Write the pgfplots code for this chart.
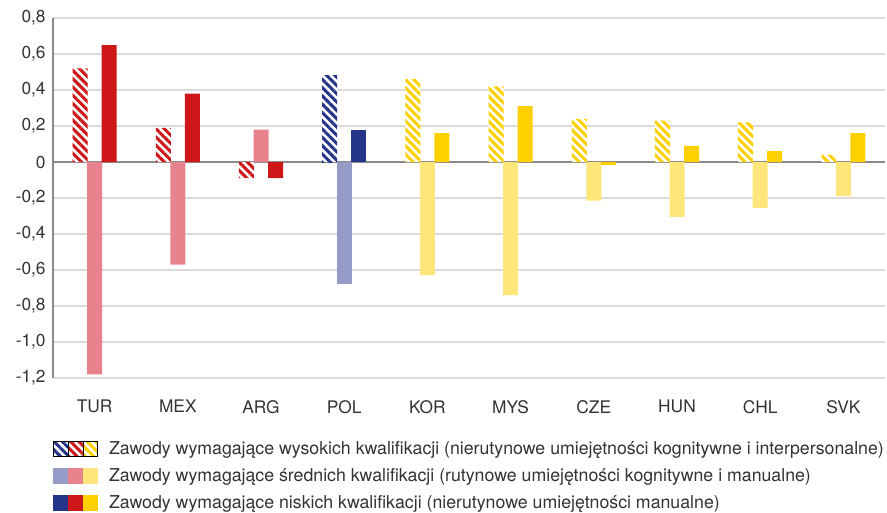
\documentclass[border=0pt]{standalone}
\usepackage{pgfplots}
\pgfplotsset{compat=1.18}
\usepackage{fontspec}
\setmainfont{TeX Gyre Heros}
\usetikzlibrary{patterns.meta}

\definecolor{cred}{HTML}{CD1719}
\definecolor{cpink}{HTML}{E8838D}
\definecolor{cblue}{HTML}{24358A}
\definecolor{cblue2}{HTML}{949BC6}
\definecolor{cyel}{HTML}{FFD000}
\definecolor{cyel2}{HTML}{FFE67A}
\definecolor{txt}{HTML}{333333}
\definecolor{gridc}{HTML}{DADADA}
\definecolor{axisc}{HTML}{8A8A8A}

\tikzset{
  hatch/.style={fill=white, draw=none,
    postaction={pattern={Lines[angle=-45,distance=4.4pt,line width=2.3pt]}, pattern color=#1}},
}

\begin{document}
\begin{tikzpicture}
\useasboundingbox (-39.75pt,-100.5pt) rectangle (625.5pt,283.5pt);
\begin{axis}[
    scale only axis, width=624pt, height=270pt,
    ybar, bar width=11.25pt,
    xmin=-0.5, xmax=9.5, ymin=-1.2, ymax=0.8,
    axis lines*=left,
    x axis line style={draw=gridc, line width=0.9pt},
    y axis line style={draw=axisc, line width=1pt},
    ymajorgrids, grid style={draw=gridc, line width=0.9pt},
    major tick length=0pt,
    xtick={0,1,2,3,4,5,6,7,8,9},
    xticklabels={TUR,MEX,ARG,POL,KOR,MYS,CZE,HUN,CHL,SVK},
    ytick={-1.2,-1,-0.8,-0.6,-0.4,-0.2,0,0.2,0.4,0.6,0.8},
    yticklabels={{-1,2},{-1,0},{-0,8},{-0,6},{-0,4},{-0,2},{0},{0,2},{0,4},{0,6},{0,8}},
    tick label style={font=\fontsize{13}{15}\selectfont, text=txt},
    xticklabel style={yshift=-13pt},
    yticklabel style={xshift=-2pt},
    extra y ticks={0}, extra y tick labels={},
    extra y tick style={grid style={draw=axisc, line width=1.1pt}},
    legend style={at={(0,0)}, anchor=north west, yshift=-45.5pt,
      draw=none, fill=none, inner sep=0pt, row sep=5pt,
      font=\fontsize{13.3}{15}\selectfont, text=txt,
      /tikz/every odd column/.append style={column sep=6.5pt}},
    legend cell align=left,
]
% high-skill (hatched)
\addplot[forget plot, hatch=cred, bar shift=-10.9pt] coordinates {(0,0.52) (1,0.19) (2,-0.09)};
\addplot[forget plot, hatch=cblue, bar shift=-10.9pt] coordinates {(3,0.48)};
\addplot[forget plot, hatch=cyel, bar shift=-10.9pt] coordinates {(4,0.46) (5,0.42) (6,0.24) (7,0.23) (8,0.22) (9,0.04)};
% mid-skill
\addplot[forget plot, fill=cpink, draw=none, bar shift=0pt] coordinates {(0,-1.18) (1,-0.57) (2,0.18)};
\addplot[forget plot, fill=cblue2, draw=none, bar shift=0pt] coordinates {(3,-0.68)};
\addplot[forget plot, fill=cyel2, draw=none, bar shift=0pt] coordinates {(4,-0.63) (5,-0.74) (6,-0.215) (7,-0.305) (8,-0.255) (9,-0.19)};
% low-skill
\addplot[forget plot, fill=cred, draw=none, bar shift=10.9pt] coordinates {(0,0.65) (1,0.38) (2,-0.09)};
\addplot[forget plot, fill=cblue, draw=none, bar shift=10.9pt] coordinates {(3,0.18)};
\addplot[forget plot, fill=cyel, draw=none, bar shift=10.9pt] coordinates {(4,0.16) (5,0.31) (6,-0.017) (7,0.09) (8,0.06) (9,0.16)};

\addlegendimage{legend image code/.code={
  \path[hatch=cblue] (0pt,-5.6pt) rectangle (11pt,5.6pt);
  \path[hatch=cred] (11pt,-5.6pt) rectangle (22pt,5.6pt);
  \path[hatch=cyel] (22pt,-5.6pt) rectangle (33pt,5.6pt);}}
\addlegendentry{Zawody wymagające wysokich kwalifikacji (nierutynowe umiejętności kognitywne i interpersonalne)}
\addlegendimage{legend image code/.code={
  \fill[cblue2] (0pt,-5.6pt) rectangle (11pt,5.6pt);
  \fill[cpink] (11pt,-5.6pt) rectangle (22pt,5.6pt);
  \fill[cyel2] (22pt,-5.6pt) rectangle (33pt,5.6pt);}}
\addlegendentry{Zawody wymagające średnich kwalifikacji (rutynowe umiejętności kognitywne i manualne)}
\addlegendimage{legend image code/.code={
  \fill[cblue] (0pt,-5.6pt) rectangle (11pt,5.6pt);
  \fill[cred] (11pt,-5.6pt) rectangle (22pt,5.6pt);
  \fill[cyel] (22pt,-5.6pt) rectangle (33pt,5.6pt);}}
\addlegendentry{Zawody wymagające niskich kwalifikacji (nierutynowe umiejętności manualne)}
\end{axis}
\end{tikzpicture}
\end{document}
